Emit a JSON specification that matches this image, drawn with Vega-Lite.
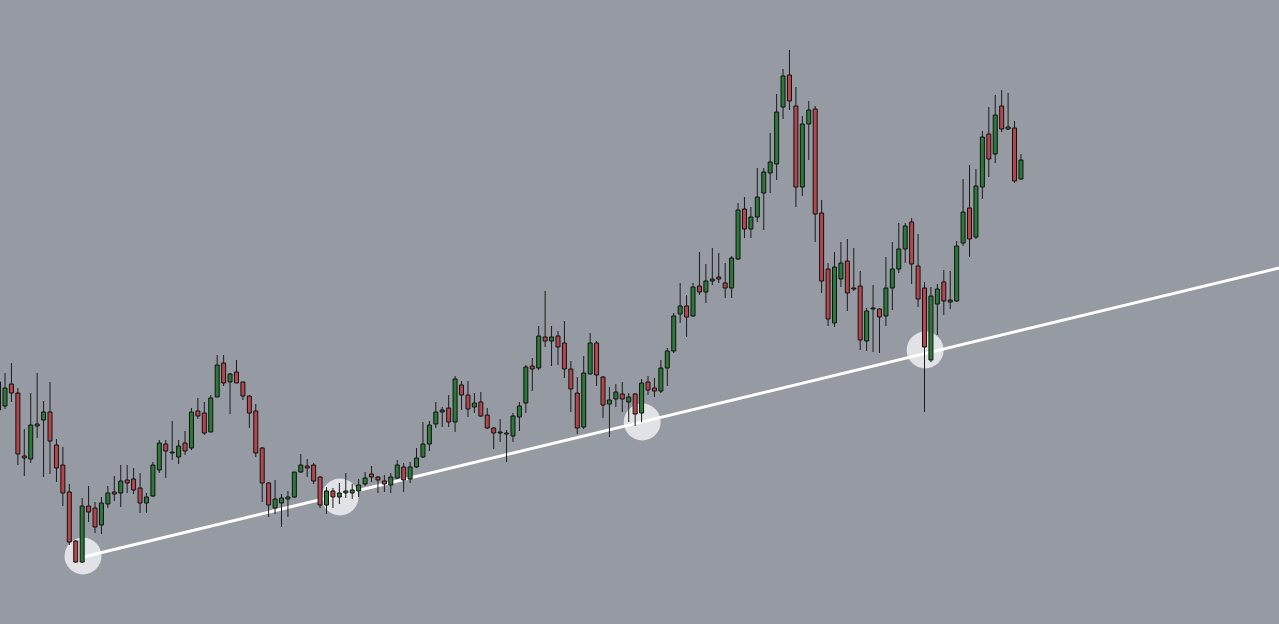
{
  "$schema": "https://vega.github.io/schema/vega-lite/v6.json",
  "autosize": {"type": "fit", "contains": "padding"},
  "width": 1279,
  "height": 624,
  "padding": 0,
  "background": "#969aa3",
  "config": {"view": {"stroke": null}},
  "datasets": {
    "candles": [
      {"i":0,"open":242,"high":246,"low":212,"close":214},
      {"i":1,"open":218,"high":251,"low":215,"close":236},
      {"i":2,"open":240,"high":261,"low":222,"close":231},
      {"i":3,"open":231,"high":236,"low":159,"close":170},
      {"i":4,"open":168,"high":195,"low":148,"close":166},
      {"i":5,"open":165,"high":231,"low":161,"close":199},
      {"i":6,"open":198,"high":251,"low":186,"close":200},
      {"i":7,"open":204,"high":223,"low":147,"close":212},
      {"i":8,"open":212,"high":242,"low":150,"close":183},
      {"i":9,"open":179,"high":185,"low":142,"close":156},
      {"i":10,"open":159,"high":177,"low":118,"close":131},
      {"i":11,"open":132,"high":140,"low":79,"close":82},
      {"i":12,"open":83,"high":84,"low":61,"close":62},
      {"i":13,"open":62,"high":126,"low":61,"close":118},
      {"i":14,"open":118,"high":138,"low":102,"close":112},
      {"i":15,"open":116,"high":122,"low":91,"close":97},
      {"i":16,"open":99,"high":127,"low":90,"close":121},
      {"i":17,"open":120,"high":138,"low":116,"close":131},
      {"i":18,"open":132,"high":148,"low":123,"close":130},
      {"i":19,"open":131,"high":159,"low":117,"close":143},
      {"i":20,"open":144,"high":159,"low":131,"close":141},
      {"i":21,"open":145,"high":156,"low":130,"close":134},
      {"i":22,"open":136,"high":151,"low":111,"close":121},
      {"i":23,"open":121,"high":131,"low":111,"close":127},
      {"i":24,"open":128,"high":162,"low":127,"close":159},
      {"i":25,"open":154,"high":184,"low":151,"close":181},
      {"i":26,"open":180,"high":184,"low":146,"close":173},
      {"i":27,"open":171,"high":203,"low":164,"close":172},
      {"i":28,"open":167,"high":184,"low":160,"close":178},
      {"i":29,"open":181,"high":193,"low":169,"close":173},
      {"i":30,"open":176,"high":216,"low":174,"close":212},
      {"i":31,"open":213,"high":226,"low":205,"close":208},
      {"i":32,"open":211,"high":222,"low":189,"close":191},
      {"i":33,"open":192,"high":229,"low":192,"close":226},
      {"i":34,"open":227,"high":269,"low":227,"close":259},
      {"i":35,"open":261,"high":269,"low":238,"close":241},
      {"i":36,"open":242,"high":251,"low":210,"close":250},
      {"i":37,"open":252,"high":264,"low":241,"close":241},
      {"i":38,"open":242,"high":242,"low":224,"close":228},
      {"i":39,"open":228,"high":229,"low":196,"close":211},
      {"i":40,"open":213,"high":220,"low":167,"close":171},
      {"i":41,"open":176,"high":177,"low":122,"close":141},
      {"i":42,"open":141,"high":142,"low":107,"close":119},
      {"i":43,"open":116,"high":144,"low":110,"close":125},
      {"i":44,"open":121,"high":130,"low":97,"close":126},
      {"i":45,"open":125,"high":133,"low":107,"close":127},
      {"i":46,"open":127,"high":152,"low":126,"close":152},
      {"i":47,"open":152,"high":170,"low":151,"close":159},
      {"i":48,"open":158,"high":165,"low":147,"close":156},
      {"i":49,"open":159,"high":161,"low":140,"close":143},
      {"i":50,"open":147,"high":148,"low":116,"close":119},
      {"i":51,"open":119,"high":137,"low":110,"close":133},
      {"i":52,"open":133,"high":136,"low":116,"close":127},
      {"i":53,"open":127,"high":141,"low":120,"close":131},
      {"i":54,"open":131,"high":151,"low":126,"close":133},
      {"i":55,"open":131,"high":140,"low":125,"close":134},
      {"i":56,"open":133,"high":145,"low":127,"close":139},
      {"i":57,"open":140,"high":152,"low":138,"close":146},
      {"i":58,"open":150,"high":158,"low":142,"close":147},
      {"i":59,"open":147,"high":148,"low":131,"close":144},
      {"i":60,"open":143,"high":149,"low":132,"close":140},
      {"i":61,"open":139,"high":151,"low":131,"close":147},
      {"i":62,"open":146,"high":164,"low":145,"close":159},
      {"i":63,"open":157,"high":161,"low":132,"close":144},
      {"i":64,"open":145,"high":162,"low":141,"close":157},
      {"i":65,"open":157,"high":176,"low":156,"close":166},
      {"i":66,"open":167,"high":202,"low":166,"close":180},
      {"i":67,"open":180,"high":203,"low":173,"close":199},
      {"i":68,"open":200,"high":222,"low":196,"close":212},
      {"i":69,"open":212,"high":217,"low":197,"close":214},
      {"i":70,"open":216,"high":229,"low":197,"close":202},
      {"i":71,"open":202,"high":248,"low":192,"close":245},
      {"i":72,"open":239,"high":243,"low":214,"close":229},
      {"i":73,"open":229,"high":243,"low":207,"close":215},
      {"i":74,"open":217,"high":231,"low":211,"close":221},
      {"i":75,"open":222,"high":232,"low":207,"close":208},
      {"i":76,"open":209,"high":216,"low":195,"close":196},
      {"i":77,"open":196,"high":197,"low":175,"close":191},
      {"i":78,"open":191,"high":205,"low":182,"close":192},
      {"i":79,"open":190,"high":194,"low":162,"close":191},
      {"i":80,"open":188,"high":211,"low":182,"close":208},
      {"i":81,"open":207,"high":222,"low":193,"close":218},
      {"i":82,"open":221,"high":259,"low":211,"close":257},
      {"i":83,"open":258,"high":266,"low":233,"close":255},
      {"i":84,"open":256,"high":298,"low":254,"close":288},
      {"i":85,"open":287,"high":333,"low":277,"close":283},
      {"i":86,"open":283,"high":298,"low":258,"close":287},
      {"i":87,"open":288,"high":293,"low":259,"close":277},
      {"i":88,"open":281,"high":303,"low":246,"close":255},
      {"i":89,"open":255,"high":263,"low":212,"close":235},
      {"i":90,"open":231,"high":247,"low":190,"close":196},
      {"i":91,"open":197,"high":268,"low":195,"close":251},
      {"i":92,"open":250,"high":291,"low":250,"close":281},
      {"i":93,"open":281,"high":283,"low":238,"close":249},
      {"i":94,"open":247,"high":248,"low":206,"close":219},
      {"i":95,"open":220,"high":237,"low":187,"close":224},
      {"i":96,"open":225,"high":240,"low":217,"close":232},
      {"i":97,"open":230,"high":242,"low":212,"close":225},
      {"i":98,"open":222,"high":231,"low":202,"close":227},
      {"i":99,"open":230,"high":231,"low":198,"close":210},
      {"i":100,"open":211,"high":245,"low":202,"close":241},
      {"i":101,"open":242,"high":248,"low":229,"close":234},
      {"i":102,"open":236,"high":246,"low":227,"close":233},
      {"i":103,"open":233,"high":264,"low":231,"close":256},
      {"i":104,"open":256,"high":276,"low":238,"close":273},
      {"i":105,"open":273,"high":311,"low":271,"close":308},
      {"i":106,"open":310,"high":341,"low":301,"close":318},
      {"i":107,"open":318,"high":329,"low":287,"close":307},
      {"i":108,"open":308,"high":341,"low":307,"close":337},
      {"i":109,"open":338,"high":372,"low":329,"close":332},
      {"i":110,"open":332,"high":360,"low":321,"close":343},
      {"i":111,"open":343,"high":376,"low":339,"close":345},
      {"i":112,"open":347,"high":371,"low":341,"close":345},
      {"i":113,"open":341,"high":361,"low":326,"close":336},
      {"i":114,"open":336,"high":368,"low":326,"close":366},
      {"i":115,"open":365,"high":421,"low":364,"close":414},
      {"i":116,"open":415,"high":427,"low":386,"close":395},
      {"i":117,"open":395,"high":417,"low":386,"close":407},
      {"i":118,"open":407,"high":456,"low":402,"close":427},
      {"i":119,"open":431,"high":456,"low":394,"close":452},
      {"i":120,"open":451,"high":491,"low":431,"close":462},
      {"i":121,"open":460,"high":530,"low":444,"close":512},
      {"i":122,"open":517,"high":555,"low":505,"close":548},
      {"i":123,"open":549,"high":574,"low":514,"close":523},
      {"i":124,"open":518,"high":537,"low":417,"close":437},
      {"i":125,"open":437,"high":508,"low":428,"close":500},
      {"i":126,"open":500,"high":523,"low":464,"close":514},
      {"i":127,"open":515,"high":518,"low":382,"close":410},
      {"i":128,"open":411,"high":424,"low":331,"close":343},
      {"i":129,"open":355,"high":361,"low":298,"close":305},
      {"i":130,"open":301,"high":372,"low":297,"close":357},
      {"i":131,"open":345,"high":382,"low":337,"close":361},
      {"i":132,"open":363,"high":385,"low":313,"close":331},
      {"i":133,"open":335,"high":376,"low":333,"close":336},
      {"i":134,"open":338,"high":353,"low":274,"close":284},
      {"i":135,"open":283,"high":316,"low":273,"close":313},
      {"i":136,"open":315,"high":339,"low":272,"close":316},
      {"i":137,"open":315,"high":316,"low":271,"close":307},
      {"i":138,"open":308,"high":367,"low":298,"close":336},
      {"i":139,"open":336,"high":382,"low":314,"close":355},
      {"i":140,"open":355,"high":401,"low":351,"close":375},
      {"i":141,"open":375,"high":401,"low":361,"close":398},
      {"i":142,"open":402,"high":406,"low":340,"close":360},
      {"i":143,"open":358,"high":390,"low":317,"close":325},
      {"i":144,"open":336,"high":342,"low":212,"close":277},
      {"i":145,"open":264,"high":337,"low":262,"close":328},
      {"i":146,"open":320,"high":340,"low":289,"close":335},
      {"i":147,"open":342,"high":354,"low":309,"close":323},
      {"i":148,"open":322,"high":353,"low":315,"close":324},
      {"i":149,"open":323,"high":383,"low":322,"close":378},
      {"i":150,"open":381,"high":445,"low":378,"close":412},
      {"i":151,"open":416,"high":459,"low":367,"close":385},
      {"i":152,"open":387,"high":455,"low":385,"close":438},
      {"i":153,"open":437,"high":493,"low":425,"close":487},
      {"i":154,"open":490,"high":517,"low":447,"close":465},
      {"i":155,"open":470,"high":529,"low":461,"close":509},
      {"i":156,"open":518,"high":534,"low":492,"close":495},
      {"i":157,"open":495,"high":531,"low":494,"close":497},
      {"i":158,"open":496,"high":503,"low":441,"close":443},
      {"i":159,"open":445,"high":470,"low":444,"close":464}
    ],
    "trend": [
      {"i": 13.13, "value": 67},
      {"i": 199.13, "value": 356}
    ],
    "touches": [
      {"i": 13.13, "value": 68},
      {"i": 53.1, "value": 127},
      {"i": 100.1, "value": 202},
      {"i": 144.1, "value": 274}
    ]
  },
  "layer": [
    {
      "data": {"name": "touches"},
      "mark": {"type": "point", "filled": true, "color": "#f4f4f6", "opacity": 0.8, "size": 1369, "strokeWidth": 0, "clip": true},
      "encoding": {
        "x": {"field": "i", "type": "quantitative", "scale": {"domain": [0.2224, 199.13], "nice": false, "zero": false, "padding": 0}, "axis": null},
        "y": {"field": "value", "type": "quantitative", "scale": {"domain": [0, 624], "nice": false, "zero": false, "padding": 0}, "axis": null}
      }
    },
    {
      "data": {"name": "trend"},
      "mark": {"type": "line", "color": "#ffffff", "strokeWidth": 3, "clip": true},
      "encoding": {
        "x": {"field": "i", "type": "quantitative"},
        "y": {"field": "value", "type": "quantitative"}
      }
    },
    {
      "data": {"name": "candles"},
      "mark": {"type": "rule", "color": "#1a1a1a", "strokeWidth": 1, "clip": true},
      "encoding": {
        "x": {"field": "i", "type": "quantitative"},
        "y": {"field": "low", "type": "quantitative"},
        "y2": {"field": "high"}
      }
    },
    {
      "data": {"name": "candles"},
      "mark": {"type": "bar", "size": 4, "stroke": "#111111", "strokeWidth": 1, "clip": true},
      "encoding": {
        "x": {"field": "i", "type": "quantitative"},
        "y": {"field": "open", "type": "quantitative"},
        "y2": {"field": "close"},
        "color": {
          "condition": {"test": "datum.close > datum.open", "value": "#2b7a38"},
          "value": "#b5474c"
        }
      }
    }
  ]
}
